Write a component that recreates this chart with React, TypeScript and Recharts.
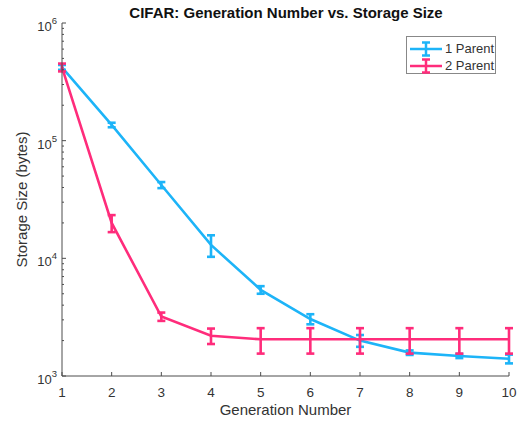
import React from "react";
import { LineChart, Line, XAxis, YAxis, ErrorBar } from "recharts";

// generation number on x, storage size (bytes) on a log y axis
const generations = [1, 2, 3, 4, 5, 6, 7, 8, 9, 10];
const oneParentSize = [420000, 136000, 42000, 13000, 5400, 3050, 2000, 1580, 1480, 1400];
const oneParentErr = [20000, 6000, 2500, 2700, 400, 300, 230, 70, 60, 120];
const twoParentSize = [420000, 20000, 3200, 2200, 2050, 2050, 2050, 2050, 2050, 2050];
const twoParentErr = [32000, 3300, 260, 330, 500, 500, 500, 500, 500, 500];

const xTicks = [1, 2, 3, 4, 5, 6, 7, 8, 9, 10];
const yMajorTicks = [1000, 10000, 100000, 1000000];

const BLUE = "#1DB4F8";
const PINK = "#FF2C7B";
const AXIS = "#4d4d4d";
const FONT = "'Liberation Sans', Arial, Helvetica, sans-serif";

// log axis minor ticks at 2..9 of each decade
const yMinorTicks: number[] = [];
yMajorTicks.slice(0, -1).forEach((d) => {
  for (let m = 2; m <= 9; m++) yMinorTicks.push(d * m);
});
const yTicks = [...yMajorTicks, ...yMinorTicks].sort((a, b) => a - b);

const data = generations.map((g, i) => ({
  gen: g,
  one: oneParentSize[i],
  oneErr: oneParentErr[i],
  two: twoParentSize[i],
  twoErr: twoParentErr[i],
}));

const XTick = (props: any) => {
  const { x, y, payload } = props;
  return (
    <g>
      <line x1={x} y1={y} x2={x} y2={y - 4} stroke={AXIS} />
      <text x={x} y={y + 21} textAnchor="middle" fontSize={13.5} fill="#333" fontFamily={FONT}>
        {payload.value}
      </text>
    </g>
  );
};

const YTick = (props: any) => {
  const { x, y, payload } = props;
  const v = payload.value as number;
  const exp = Math.round(Math.log10(v));
  const major = Math.abs(Math.pow(10, exp) - v) < 1e-6;
  return (
    <g>
      <line x1={x} y1={y} x2={x + (major ? 4 : 2)} y2={y} stroke={AXIS} />
      {major && (
        <text x={x - 5} y={y + 8} textAnchor="end" fontSize={13} fill="#333" fontFamily={FONT}>
          10
          <tspan fontSize={9.5} dy={-7}>
            {exp}
          </tspan>
        </text>
      )}
    </g>
  );
};

const LegendIcon = ({ color }: { color: string }) => (
  <svg width={32} height={16} style={{ display: "block" }}>
    <line x1={0} y1={8} x2={32} y2={8} stroke={color} strokeWidth={2.5} />
    <line x1={16} y1={1} x2={16} y2={15} stroke={color} strokeWidth={2.5} />
    <line x1={12} y1={1.5} x2={20} y2={1.5} stroke={color} strokeWidth={2.5} />
    <line x1={12} y1={14.5} x2={20} y2={14.5} stroke={color} strokeWidth={2.5} />
  </svg>
);

export default function App() {
  return (
    <div style={{ position: "fixed", left: 0, top: 0, width: 520, height: 421, background: "#fff" }}>
      <LineChart
        width={520}
        height={421}
        data={data}
        margin={{ top: 23, right: 11, bottom: 0, left: 0 }}
      >
        <XAxis
          dataKey="gen"
          type="number"
          domain={[1, 10]}
          ticks={xTicks}
          height={45}
          stroke={AXIS}
          tickLine={false}
          tickSize={0}
          tickMargin={0}
          tick={<XTick />}
          label={{
            value: "Generation Number",
            position: "insideBottom",
            offset: 6,
            fontSize: 15,
            fill: "#333",
            fontFamily: FONT,
          }}
        />
        <YAxis
          scale="log"
          domain={[1000, 1000000]}
          ticks={yTicks}
          allowDataOverflow
          width={62}
          stroke={AXIS}
          tickLine={false}
          tickSize={0}
          tickMargin={0}
          interval={0}
          tick={<YTick />}
        />
        <Line
          dataKey="one"
          type="linear"
          stroke={BLUE}
          strokeWidth={2.6}
          dot={false}
          isAnimationActive={false}
        >
          <ErrorBar dataKey="oneErr" direction="y" width={4} stroke={BLUE} strokeWidth={2.6} />
        </Line>
        <Line
          dataKey="two"
          type="linear"
          stroke={PINK}
          strokeWidth={2.6}
          dot={false}
          isAnimationActive={false}
        >
          <ErrorBar dataKey="twoErr" direction="y" width={4} stroke={PINK} strokeWidth={2.6} />
        </Line>
      </LineChart>

      <svg
        width={520}
        height={421}
        style={{ position: "absolute", left: 0, top: 0, pointerEvents: "none" }}
      >
        <text x={286} y={18} textAnchor="middle" fontSize={15} fontWeight="bold" fill="#111" fontFamily={FONT}>
          CIFAR: Generation Number vs. Storage Size
        </text>
        <text
          x={21}
          y={199.5}
          transform="rotate(-90 21 199.5)"
          textAnchor="middle"
          dominantBaseline="central"
          fontSize={15}
          fill="#333"
          fontFamily={FONT}
        >
          Storage Size (bytes)
        </text>
      </svg>

      <div
        style={{
          position: "absolute",
          left: 406,
          top: 36,
          width: 88,
          height: 36,
          border: "1px solid #888",
          background: "#fff",
          fontFamily: FONT,
          fontSize: 13,
          color: "#333",
          boxSizing: "content-box",
        }}
      >
        {[
          { name: "1 Parent", color: BLUE },
          { name: "2 Parent", color: PINK },
        ].map((s, i) => (
          <div
            key={s.name}
            style={{ position: "absolute", left: 3, top: 4 + i * 17, display: "flex", alignItems: "center", height: 16 }}
          >
            <LegendIcon color={s.color} />
            <span style={{ marginLeft: 3, lineHeight: "16px" }}>{s.name}</span>
          </div>
        ))}
      </div>
    </div>
  );
}
